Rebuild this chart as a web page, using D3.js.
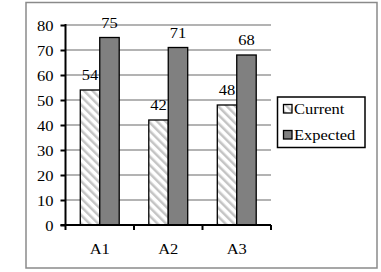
<!DOCTYPE html>
<html>
<head>
<meta charset="utf-8">
<script src="https://cdn.jsdelivr.net/npm/d3@7"></script>
<style>
  body { margin: 0; background: #fff; }
  svg text { font-family: "Liberation Serif", "Times New Roman", Times, serif !important; font-size: 15px; fill: #000; }
</style>
</head>
<body>
<div id="chart"></div>
<script>
// chart data
var categories = ["A1", "A2", "A3"];
var seriesNames = ["Current", "Expected"];
var current = [54, 42, 48];
var expected = [75, 71, 68];
var yTicks = [0, 10, 20, 30, 40, 50, 60, 70, 80];

var width = 381, height = 272;
var plot = {left: 65.5, right: 271, top: 25, bottom: 225};

// the reference text is a bit wider than the font, stretch it sideways
function stretch(sel) {
  sel.each(function() {
    var t = d3.select(this);
    var tx = +t.attr("x") || 0, ty = +t.attr("y") || 0;
    t.attr("x", 0).attr("y", 0)
     .attr("transform", "translate(" + tx + "," + ty + ") scale(1.1,1)");
  });
}

var svg = d3.select("#chart").append("svg")
    .attr("width", width)
    .attr("height", height)
    .attr("font-family", "Liberation Serif, serif");

var defs = svg.append("defs");
var pat = defs.append("pattern")
    .attr("id", "hatch")
    .attr("patternUnits", "userSpaceOnUse")
    .attr("width", 6).attr("height", 6)
    .attr("patternTransform", "rotate(-45)");
pat.append("rect").attr("width", 6).attr("height", 6).attr("fill", "#fff");
pat.append("rect").attr("x", 0).attr("width", 2.5).attr("height", 6).attr("fill", "#c4c4c4");

// outer frame
svg.append("rect")
    .attr("x", 26).attr("y", 2.5)
    .attr("width", 351).attr("height", 265.5)
    .attr("fill", "none")
    .attr("stroke", "#8a8a8a")
    .attr("stroke-width", 1.5);

var x = d3.scaleBand()
    .domain(categories)
    .range([plot.left, plot.right]);

var x1 = d3.scaleBand()
    .domain(seriesNames)
    .range([0, x.bandwidth()])
    .paddingOuter(0.76);

var y = d3.scaleLinear()
    .domain([0, 80])
    .range([plot.bottom, plot.top]);

// gridlines
svg.append("g")
  .selectAll("line")
  .data(yTicks.slice(1))
  .enter().append("line")
    .attr("x1", plot.left).attr("x2", plot.right)
    .attr("y1", function(d) { return y(d); })
    .attr("y2", function(d) { return y(d); })
    .attr("stroke", "#9a9a9a")
    .attr("stroke-width", 1.3);

var series = [
  {name: "Current", values: current, fill: "url(#hatch)"},
  {name: "Expected", values: expected, fill: "#808080"}
];

var groups = svg.append("g")
  .selectAll("g")
  .data(series)
  .enter().append("g");

groups.selectAll("rect")
    .data(function(s) { return s.values.map(function(v, i) { return {name: s.name, cat: categories[i], v: v, fill: s.fill}; }); })
  .enter().append("rect")
    .attr("x", function(d) { return x(d.cat) + x1(d.name); })
    .attr("y", function(d) { return y(d.v); })
    .attr("width", x1.bandwidth())
    .attr("height", function(d) { return y(0) - y(d.v); })
    .attr("fill", function(d) { return d.fill; })
    .attr("stroke", "#000")
    .attr("stroke-width", 1.3);

groups.selectAll("text")
    .data(function(s) { return s.values.map(function(v, i) { return {name: s.name, cat: categories[i], v: v}; }); })
  .enter().append("text")
    .attr("x", function(d) { return x(d.cat) + x1(d.name) + x1.bandwidth() / 2; })
    .attr("y", function(d) { return y(d.v) - 10; })
    .attr("text-anchor", "middle")
    .text(function(d) { return d.v; })
    .call(stretch);

// y axis
var yAxis = d3.axisLeft(y).tickValues(yTicks).tickSize(5).tickPadding(6);
var gy = svg.append("g")
    .attr("transform", "translate(" + plot.left + ",0)")
    .call(yAxis)
    .attr("font-family", null).attr("font-size", null);
gy.select(".domain").remove();
gy.selectAll(".tick line").attr("stroke", "#000").attr("stroke-width", 2);
gy.selectAll("text").attr("dy", null).attr("y", 5).attr("x", -12).call(stretch);
gy.append("line")
    .attr("x1", 0).attr("x2", 0)
    .attr("y1", plot.top - 1).attr("y2", plot.bottom)
    .attr("stroke", "#000").attr("stroke-width", 2);

// x axis
var xAxis = d3.axisBottom(x).tickSize(0);
var gx = svg.append("g")
    .attr("transform", "translate(0," + plot.bottom + ")")
    .call(xAxis)
    .attr("font-family", null).attr("font-size", null);
gx.select(".domain").remove();
gx.selectAll("text").attr("dy", null).attr("y", 29).call(stretch);
gx.append("line")
    .attr("x1", plot.left - 5).attr("x2", plot.right)
    .attr("y1", 0).attr("y2", 0)
    .attr("stroke", "#000").attr("stroke-width", 2);
gx.selectAll(".sep")
  .data(categories.concat(["end"]))
  .enter().append("line")
    .attr("class", "sep")
    .attr("x1", function(d, i) { return plot.left + i * x.step(); })
    .attr("x2", function(d, i) { return plot.left + i * x.step(); })
    .attr("y1", 0).attr("y2", 5)
    .attr("stroke", "#000").attr("stroke-width", 2);

// legend
var legend = svg.append("g").attr("transform", "translate(277.5,97)");
legend.append("rect")
    .attr("width", 87.5).attr("height", 50.5)
    .attr("fill", "#fff")
    .attr("stroke", "#000")
    .attr("stroke-width", 1.5);
var li = legend.selectAll(".item")
  .data(series)
  .enter().append("g")
    .attr("class", "item")
    .attr("transform", function(d, i) { return "translate(6," + (7.5 + i * 26) + ")"; });
li.append("rect")
    .attr("width", 8.5).attr("height", 8.5)
    .attr("fill", function(d) { return d.fill; })
    .attr("stroke", "#000")
    .attr("stroke-width", 1.3);
li.append("text")
    .attr("x", 10.5).attr("y", 9.5)
    .text(function(d) { return d.name; })
    .call(stretch);
</script>
</body>
</html>
